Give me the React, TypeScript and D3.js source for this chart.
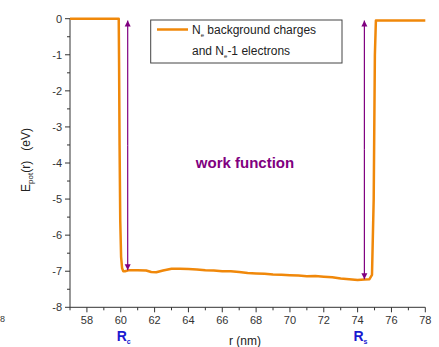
import React from 'react';
import * as d3 from 'd3';

// potential energy profile
const rValues = [57, 59.88, 59.9, 59.93, 59.97, 60.02, 60.08, 60.15, 60.25, 60.5, 61, 61.5, 61.8, 62.1, 62.5, 63, 63.5, 64, 64.5, 65, 65.5, 66, 66.5, 67, 67.5, 68, 68.5, 69, 69.5, 70, 70.5, 71, 71.5, 72, 72.5, 73, 73.5, 74, 74.4, 74.7, 74.85, 74.95, 75.02, 75.08, 78];
const eValues = [0, 0, -1.2, -3.5, -5.6, -6.6, -6.92, -7.0, -7.0, -6.97, -6.97, -6.98, -7.02, -7.03, -6.98, -6.93, -6.93, -6.94, -6.95, -6.97, -6.98, -7.0, -7.0, -7.02, -7.05, -7.06, -7.07, -7.09, -7.1, -7.11, -7.12, -7.14, -7.13, -7.15, -7.17, -7.2, -7.22, -7.24, -7.23, -7.22, -7.1, -5, -1, -0.05, -0.05];

// work-function arrows: [r, top E, bottom E]
const arrowR = [60.41, 74.4];
const arrowTop = [-0.05, -0.05];
const arrowBottom = [-6.97, -7.22];
const arrowLabels = ['c', 's'];

const xTicks = [58, 60, 62, 64, 66, 68, 70, 72, 74, 76, 78];
const xMinor = [57, 59, 61, 63, 65, 67, 69, 71, 73, 75, 77];
const yTicks = [0, -1, -2, -3, -4, -5, -6, -7, -8];
const yMinor = [-0.5, -1.5, -2.5, -3.5, -4.5, -5.5, -6.5, -7.5];

const ORANGE = '#f0880a';
const PURPLE = '#800080';
const FONT = '"Liberation Sans", Arial, sans-serif';

export default function App() {
  const W = 439;
  const H = 347;
  const x = d3.scaleLinear().domain([57, 78]).range([70, 425.3]);
  const y = d3.scaleLinear().domain([0, -8]).range([18.7, 307.3]);
  const y0 = y(-8);
  const x0 = x(57);

  const line = d3.line<number>()
    .x((d, i) => x(rValues[i]))
    .y(d => y(d));

  return (
    <svg width={W} height={H} style={{ position: 'absolute', left: 0, top: 0, background: '#fff' }}
      fontFamily={FONT}>
      <defs>
        <marker id="ah" viewBox="0 0 10 10" refX="10" refY="5" markerWidth="6" markerHeight="8"
          markerUnits="userSpaceOnUse" orient="auto">
          <path d="M0,0 L10,5 L0,10 z" fill={PURPLE} />
        </marker>
      </defs>

      {/* axes */}
      <line x1={x0} x2={x0} y1={y(0)} y2={y0} stroke="#333" strokeWidth={1} />
      <line x1={x0} x2={x(78)} y1={y0} y2={y0} stroke="#333" strokeWidth={1} />
      {yTicks.map(t => (
        <g key={'y' + t}>
          <line x1={x0 - 5} x2={x0} y1={y(t)} y2={y(t)} stroke="#333" />
          <text x={x0 - 8} y={y(t)} dy="0.35em" textAnchor="end" fontSize={11} fill="#333">{t}</text>
        </g>
      ))}
      {yMinor.map(t => (
        <line key={'ym' + t} x1={x0 - 3} x2={x0} y1={y(t)} y2={y(t)} stroke="#333" />
      ))}
      {xTicks.map(t => (
        <g key={'x' + t}>
          <line x1={x(t)} x2={x(t)} y1={y0} y2={y0 + 5} stroke="#333" />
          <text x={x(t)} y={y0 + 17} textAnchor="middle" fontSize={11} fill="#333">{t}</text>
        </g>
      ))}
      {xMinor.map(t => (
        <line key={'xm' + t} x1={x(t)} x2={x(t)} y1={y0} y2={y0 + 3} stroke="#333" />
      ))}

      {/* axis titles */}
      <text transform="translate(30,160) rotate(-90)" textAnchor="middle" fontSize={12} fill="#222">
        E<tspan fontSize={8} dy={3}>pot</tspan><tspan dy={-3}>(r)</tspan><tspan dx={10}>(eV)</tspan>
      </text>
      <text x={245} y={345} textAnchor="middle" fontSize={12} fill="#222">r (nm)</text>
      <text x={0} y={322} fontSize={9} fill="#333">8</text>

      {/* data */}
      <path d={line(eValues) || ''} fill="none" stroke={ORANGE} strokeWidth={2.5} strokeLinejoin="round" />

      {/* arrows */}
      {arrowR.map((r, i) => (
        <g key={'a' + i}>
          <line x1={x(r)} x2={x(r)} y1={(y(arrowTop[i]) + y(arrowBottom[i])) / 2} y2={y(arrowTop[i])}
            stroke={PURPLE} strokeWidth={1.2} markerEnd="url(#ah)" />
          <line x1={x(r)} x2={x(r)} y1={(y(arrowTop[i]) + y(arrowBottom[i])) / 2} y2={y(arrowBottom[i])}
            stroke={PURPLE} strokeWidth={1.2} markerEnd="url(#ah)" />
          <text x={x(r) - 4} y={y0 + 34} textAnchor="middle" fontSize={14} fontWeight="bold" fill="#1a1ad0">
            R<tspan fontSize={7} dy={3}>{arrowLabels[i]}</tspan>
          </text>
        </g>
      ))}

      <text x={245} y={168} textAnchor="middle" fontSize={15} fontWeight="bold" fill={PURPLE}>work function</text>

      {/* legend */}
      <rect x={150.7} y={20} width={191.3} height={43} fill="#fff" stroke="#444" strokeWidth={1} />
      <line x1={157} x2={188} y1={29.5} y2={29.5} stroke={ORANGE} strokeWidth={2.5} />
      <text x={192} y={34} fontSize={12} fill="#222">
        N<tspan fontSize={6} dy={3}>e</tspan><tspan dy={-3}> background charges</tspan>
      </text>
      <text x={192} y={55} fontSize={12} fill="#222">
        and N<tspan fontSize={6} dy={3}>e</tspan><tspan dy={-3}>-1 electrons</tspan>
      </text>
    </svg>
  );
}
